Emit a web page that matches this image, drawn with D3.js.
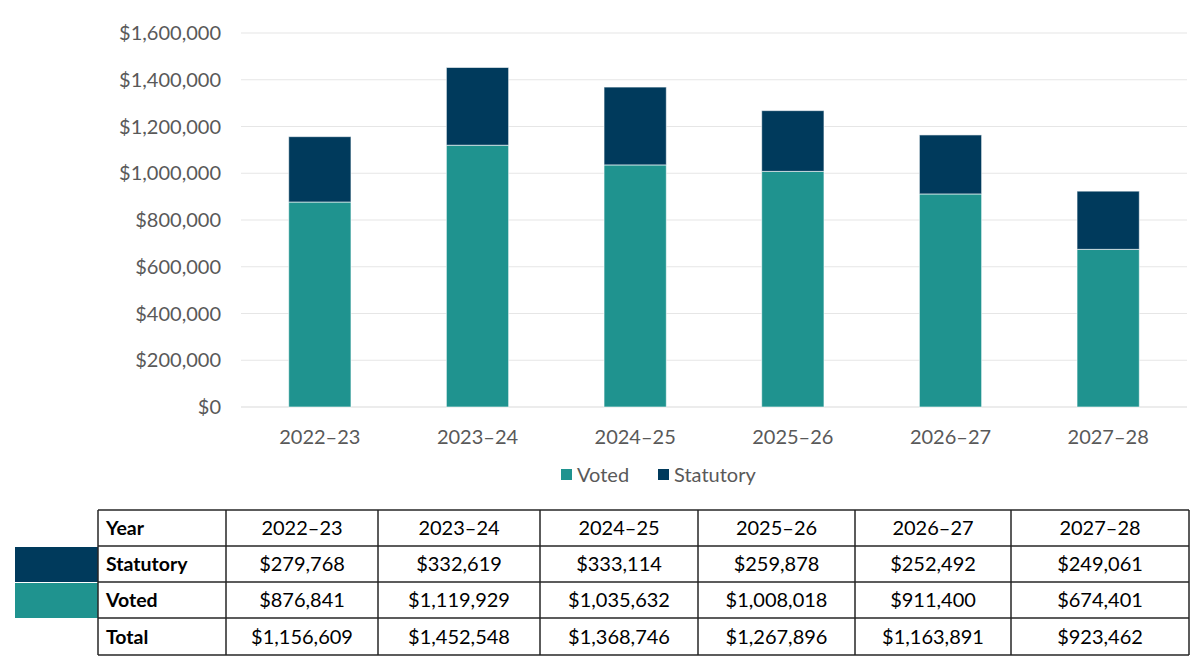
<!DOCTYPE html>
<html>
<head>
<meta charset="utf-8">
<script src="https://cdn.jsdelivr.net/npm/d3@7"></script>
<style>
  html, body { margin: 0; padding: 0; background: #fff; }
  svg { display: block; font-family: "Lato", "Open Sans", sans-serif; }
</style>
</head>
<body>
<svg id="chart" width="1200" height="670"></svg>
<script>
// ---- data ----
const years = ["2022–23", "2023–24", "2024–25", "2025–26", "2026–27", "2027–28"];
const voted = [876841, 1119929, 1035632, 1008018, 911400, 674401];
const statutory = [279768, 332619, 333114, 259878, 252492, 249061];
const totals = [1156609, 1452548, 1368746, 1267896, 1163891, 923462];
const yTicks = [0, 200000, 400000, 600000, 800000, 1000000, 1200000, 1400000, 1600000];
const seriesNames = ["Voted", "Statutory"];

// ---- style ----
const colors = { Voted: "#1f938f", Statutory: "#003a5c" };
const textGrey = "#595959";

const svg = d3.select("#chart");

const x = d3.scaleBand().domain(years).range([241, 1187]).paddingInner(0.605).paddingOuter(0.3025);
const y = d3.scaleLinear().domain([0, 1600000]).range([407, 33]);

// gridlines
svg.append("g").selectAll("line").data(yTicks).join("line")
  .attr("x1", 241).attr("x2", 1187)
  .attr("y1", d => y(d)).attr("y2", d => y(d))
  .attr("stroke", d => d === 0 ? "#d9d9d9" : "#e6e6e6")
  .attr("stroke-width", 1.2);

// y axis labels
const fmt = d3.format("$,");
svg.append("g").selectAll("text").data(yTicks).join("text")
  .attr("x", 221).attr("y", d => y(d)).attr("dy", "0.35em")
  .attr("text-anchor", "end").attr("fill", textGrey)
  .attr("font-size", 20)
  .text(d => fmt(d));

// stacked bars
const rows = years.map((yr, i) => ({ year: yr, Voted: voted[i], Statutory: statutory[i] }));
const stack = d3.stack().keys(seriesNames)(rows);
svg.append("g").selectAll("g").data(stack).join("g")
  .attr("fill", d => colors[d.key])
  .selectAll("rect").data(d => d).join("rect")
  .attr("x", d => x(d.data.year))
  .attr("width", x.bandwidth())
  .attr("y", d => y(d[1]))
  .attr("height", d => y(d[0]) - y(d[1]))
  .attr("stroke", "#ffffff").attr("stroke-opacity", 0.6).attr("stroke-width", 1);

// x axis labels
svg.append("g").selectAll("text").data(years).join("text")
  .attr("x", d => x(d) + x.bandwidth() / 2).attr("y", 437)
  .attr("dy", "0.35em").attr("text-anchor", "middle")
  .attr("fill", textGrey).attr("font-size", 20)
  .text(d => d);

// legend
const legendX = [561, 658];
const lg = svg.append("g");
seriesNames.forEach((s, i) => {
  lg.append("rect").attr("x", legendX[i]).attr("y", 469).attr("width", 11).attr("height", 11).attr("fill", colors[s]);
  lg.append("text").attr("x", legendX[i] + 16).attr("y", 475).attr("dy", "0.35em")
    .attr("fill", textGrey).attr("font-size", 20).text(s);
});

// ---- data table ----
const colEdges = [98, 226, 378, 540, 698, 855, 1011, 1189];
const rowEdges = [510, 546, 582, 618, 655];
const tableRows = [
  { label: "Year", values: years, color: null },
  { label: "Statutory", values: statutory.map(fmt), color: colors.Statutory },
  { label: "Voted", values: voted.map(fmt), color: colors.Voted },
  { label: "Total", values: totals.map(fmt), color: null }
];
const tg = svg.append("g");

// legend swatches left of table
tableRows.forEach((r, i) => {
  if (r.color) {
    tg.append("rect").attr("x", 15).attr("y", rowEdges[i] + 1)
      .attr("width", colEdges[0] - 15).attr("height", rowEdges[i + 1] - rowEdges[i] - 1)
      .attr("fill", r.color);
  }
});

// grid lines
rowEdges.forEach(yy => {
  tg.append("line").attr("x1", colEdges[0]).attr("x2", colEdges[colEdges.length - 1])
    .attr("y1", yy).attr("y2", yy).attr("stroke", "#262626").attr("stroke-width", 1.5);
});
colEdges.forEach(xx => {
  tg.append("line").attr("x1", xx).attr("x2", xx)
    .attr("y1", rowEdges[0]).attr("y2", rowEdges[rowEdges.length - 1])
    .attr("stroke", "#262626").attr("stroke-width", 1.5);
});

// cell text
tableRows.forEach((r, i) => {
  const cy = (rowEdges[i] + rowEdges[i + 1]) / 2;
  tg.append("text").attr("x", colEdges[0] + 8).attr("y", cy).attr("dy", "0.36em")
    .attr("font-weight", "bold").attr("font-size", 19.5).attr("fill", "#000").text(r.label);
  r.values.forEach((v, j) => {
    tg.append("text").attr("x", (colEdges[j + 1] + colEdges[j + 2]) / 2).attr("y", cy).attr("dy", "0.36em")
      .attr("text-anchor", "middle").attr("font-size", 20).attr("fill", "#000").text(v);
  });
});
</script>
</body>
</html>
